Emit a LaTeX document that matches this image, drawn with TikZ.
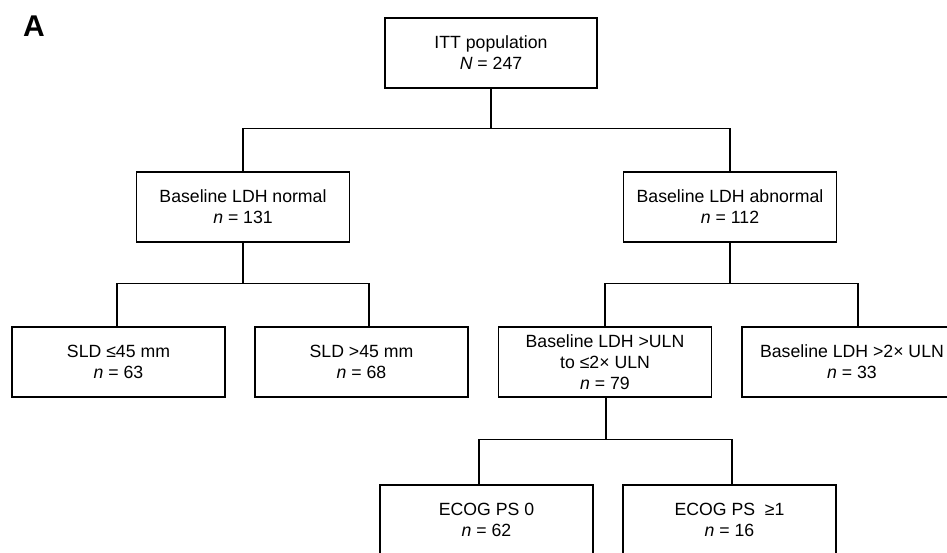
\documentclass[tikz,border=0pt]{standalone}
\usepackage{fontspec}
\setmainfont{Liberation Sans}
\usetikzlibrary{positioning}
\tikzset{
  grpbox/.style={draw, line width=0.65pt, align=center, minimum width=106.5pt,
    minimum height=35pt, inner sep=0pt, font=\fontsize{8.84}{10.5}\selectfont},
  link/.style={line width=0.65pt}
}
\begin{document}
\begin{tikzpicture}[x=0.5pt,y=-0.5pt]
  \useasboundingbox (0,0) rectangle (947,552);
  \node[font=\fontsize{15}{15}\selectfont\bfseries] (lbl) at (34,26) {A};
  \node[grpbox, minimum width=106pt] (itt) at (491,53) {ITT population\\\textit{N} = 247};
  \node[grpbox] (norm) at (243,207) {Baseline LDH normal\\\textit{n} = 131};
  \node[grpbox] (abn) at (730,207) {Baseline LDH abnormal\\\textit{n} = 112};
  \node[grpbox] (sldlo) at (118.5,362) {SLD ≤45 mm\\\textit{n} = 63};
  \node[grpbox] (sldhi) at (361.5,362) {SLD >45 mm\\\textit{n} = 68};
  \node[grpbox] (mid) at (605,362) {Baseline LDH >ULN\\to ≤2× ULN\\\textit{n} = 79};
  \node[grpbox, minimum width=110pt] (high) at (852,362) {Baseline LDH >2× ULN\\\textit{n} = 33};
  \node[grpbox] (ps0) at (486.5,520) {ECOG PS 0\\\textit{n} = 62};
  \node[grpbox] (ps1) at (729.5,520) {ECOG PS\ \ ≥1\\\textit{n} = 16};
  % branches
  \draw[link] (itt.south) -- ++(0,40) coordinate (j0);
  \draw[link] (norm.north) |- (j0) -| (abn.north);
  \draw[link] (norm.south) -- ++(0,41) coordinate (j1);
  \draw[link] ([xshift=-0.75pt]sldlo.north) |- (j1) -| ([xshift=3.75pt]sldhi.north);
  \draw[link] (abn.south) -- ++(0,41) coordinate (j2);
  \draw[link] (mid.north) |- (j2) -| ([xshift=3pt]high.north);
  \draw[link] ([xshift=0.5pt]mid.south) -- ++(0,42) coordinate (j3);
  \draw[link] ([xshift=-3.75pt]ps0.north) |- (j3) -| ([xshift=1.25pt]ps1.north);
\end{tikzpicture}
\end{document}
